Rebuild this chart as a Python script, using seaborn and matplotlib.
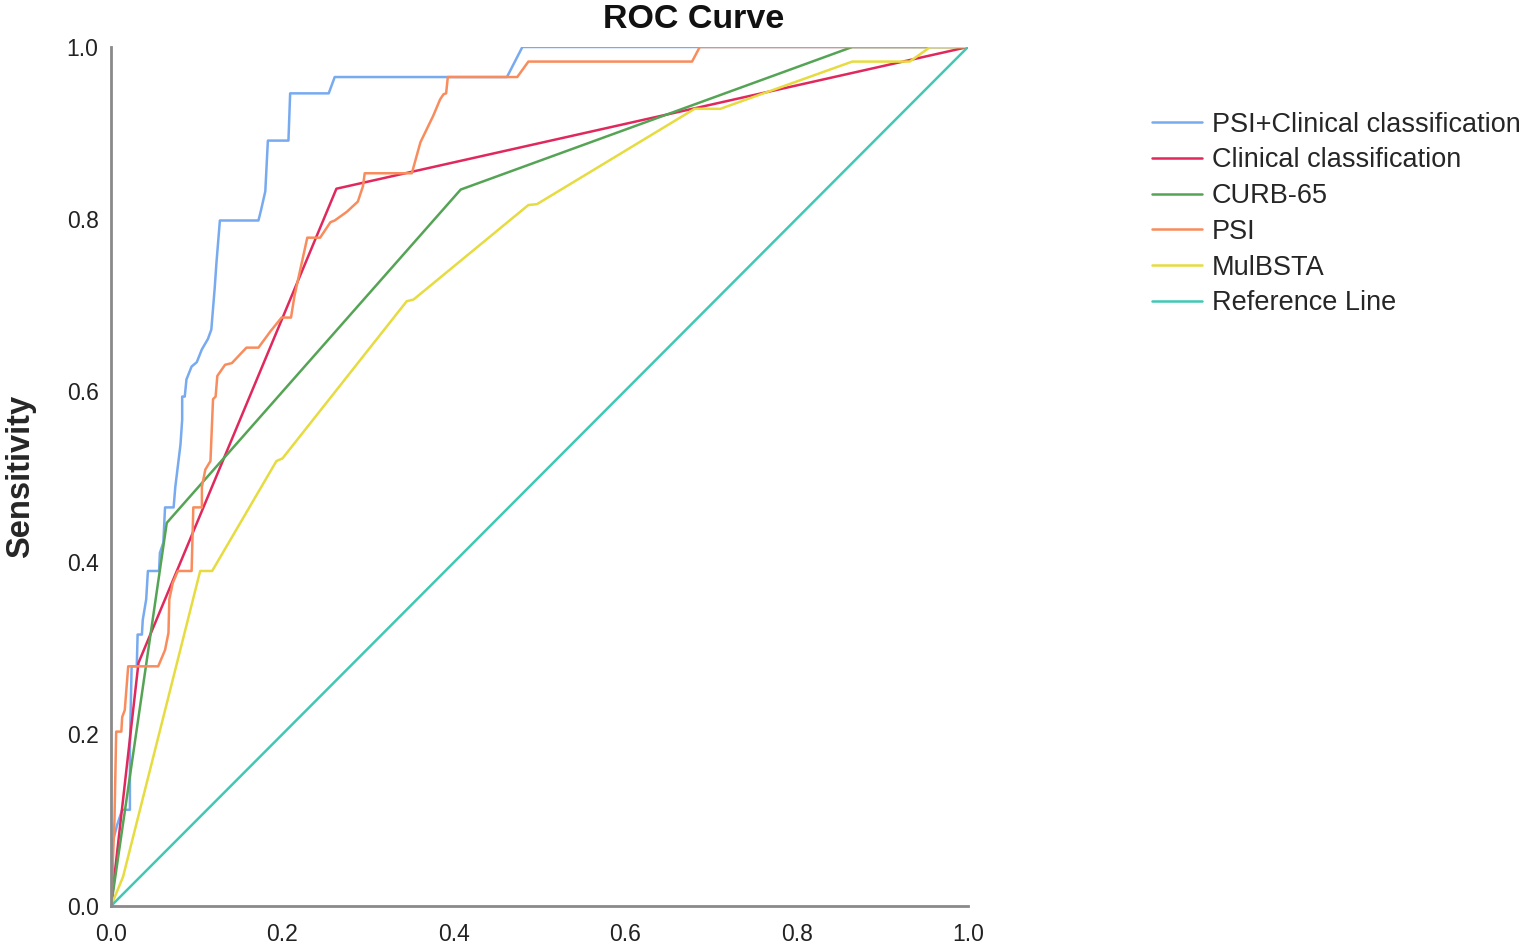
import numpy as np
import matplotlib
matplotlib.use("Agg")
import matplotlib.pyplot as plt
import seaborn as sns

# ROC points (1 - specificity, sensitivity)
combo_x = [0.0, 0.002, 0.002, 0.007, 0.013, 0.022, 0.022, 0.024, 0.030, 0.031, 0.036, 0.037,
           0.041, 0.043, 0.056, 0.057, 0.061, 0.063, 0.073, 0.075, 0.081, 0.083, 0.083, 0.086,
           0.088, 0.094, 0.100, 0.106, 0.113, 0.117, 0.121, 0.123, 0.127, 0.172, 0.175, 0.180,
           0.183, 0.207, 0.209, 0.254, 0.261, 0.462, 0.480, 1.0]
combo_y = [0.0, 0.0, 0.075, 0.094, 0.112, 0.112, 0.186, 0.279, 0.279, 0.316, 0.316, 0.333,
           0.357, 0.390, 0.390, 0.411, 0.423, 0.464, 0.464, 0.488, 0.537, 0.566, 0.593, 0.593,
           0.613, 0.628, 0.633, 0.648, 0.660, 0.671, 0.720, 0.749, 0.798, 0.798, 0.810, 0.832,
           0.891, 0.891, 0.946, 0.946, 0.965, 0.965, 1.0, 1.0]

clin_x = [0.0, 0.032, 0.263, 1.0]
clin_y = [0.0, 0.283, 0.835, 1.0]

curb_x = [0.0, 0.065, 0.408, 0.865, 1.0]
curb_y = [0.0, 0.446, 0.834, 1.0, 1.0]

psi_x = [0.0, 0.004, 0.006, 0.012, 0.013, 0.016, 0.020, 0.055, 0.063, 0.067, 0.068, 0.072,
         0.078, 0.094, 0.096, 0.106, 0.106, 0.110, 0.116, 0.118, 0.119, 0.122, 0.124, 0.133,
         0.141, 0.158, 0.172, 0.186, 0.199, 0.210, 0.214, 0.229, 0.244, 0.256, 0.261, 0.275,
         0.288, 0.294, 0.296, 0.351, 0.361, 0.376, 0.384, 0.388, 0.391, 0.393, 0.474, 0.487,
         0.678, 0.687, 1.0]
psi_y = [0.0, 0.100, 0.203, 0.203, 0.220, 0.228, 0.279, 0.279, 0.298, 0.318, 0.357, 0.376,
         0.390, 0.390, 0.464, 0.464, 0.488, 0.508, 0.518, 0.566, 0.590, 0.593, 0.617, 0.630,
         0.632, 0.650, 0.650, 0.669, 0.685, 0.685, 0.710, 0.778, 0.778, 0.796, 0.798, 0.808,
         0.820, 0.838, 0.853, 0.853, 0.889, 0.920, 0.939, 0.945, 0.946, 0.965, 0.965, 0.983,
         0.983, 1.0, 1.0]

mul_x = [0.0, 0.014, 0.104, 0.118, 0.193, 0.200, 0.345, 0.353, 0.487, 0.497, 0.681, 0.711,
         0.865, 0.932, 0.956, 1.0]
mul_y = [0.0, 0.034, 0.390, 0.390, 0.518, 0.521, 0.704, 0.706, 0.816, 0.817, 0.928, 0.928,
         0.983, 0.983, 1.0, 1.0]

ref_x = [0.0, 1.0]
ref_y = [0.0, 1.0]

tick_vals = [0.0, 0.2, 0.4, 0.6, 0.8, 1.0]
tick_labels = ["0.0", "0.2", "0.4", "0.6", "0.8", "1.0"]

series = [
    ("PSI+Clinical classification", combo_x, combo_y, "#78aaf0"),
    ("Clinical classification", clin_x, clin_y, "#e0285c"),
    ("CURB-65", curb_x, curb_y, "#55a455"),
    ("PSI", psi_x, psi_y, "#f98c5c"),
    ("MulBSTA", mul_x, mul_y, "#e6dc40"),
    ("Reference Line", ref_x, ref_y, "#40c8b4"),
]

sns.set_style("white")
plt.rcParams['font.family'] = ['Liberation Sans', 'DejaVu Sans']

fig = plt.figure(figsize=(15.36, 9.47), dpi=100)
ax = fig.add_axes([0.0723, 0.0433, 0.5579, 0.9071])

for name, xs, ys, col in series:
    sns.lineplot(x=xs, y=ys, sort=False, estimator=None, color=col, linewidth=1.8,
                 label=name, ax=ax)

ax.set_xlim(0, 1)
ax.set_ylim(0, 1)
ax.set_xticks(tick_vals)
ax.set_yticks(tick_vals)
ax.set_xticklabels(tick_labels)
ax.set_yticklabels(tick_labels)
ax.tick_params(length=0, labelsize=16.5, colors="#222222")
ax.tick_params(axis="x", pad=12)
ax.tick_params(axis="y", pad=9)
for side in ["top", "right"]:
    ax.spines[side].set_visible(False)
for side in ["left", "bottom"]:
    ax.spines[side].set_color("#8a8a8a")
    ax.spines[side].set_linewidth(2)

fig.text(694 / 1536, 1 - 20 / 947, "ROC Curve", fontsize=24.5, fontweight="bold",
         ha="center", va="center", color="#111111")
ax.set_ylabel("Sensitivity", fontsize=23.5, fontweight="bold", labelpad=22)
ax.set_xlabel("")

ax.legend(loc="upper left", bbox_to_anchor=(1138 / 1536, 1 - 98 / 947),
          bbox_transform=fig.transFigure, frameon=False, fontsize=19.5,
          handlelength=1.85, handletextpad=0.37, labelspacing=0.36, borderpad=0)

fig.savefig("out.png", dpi=100)
